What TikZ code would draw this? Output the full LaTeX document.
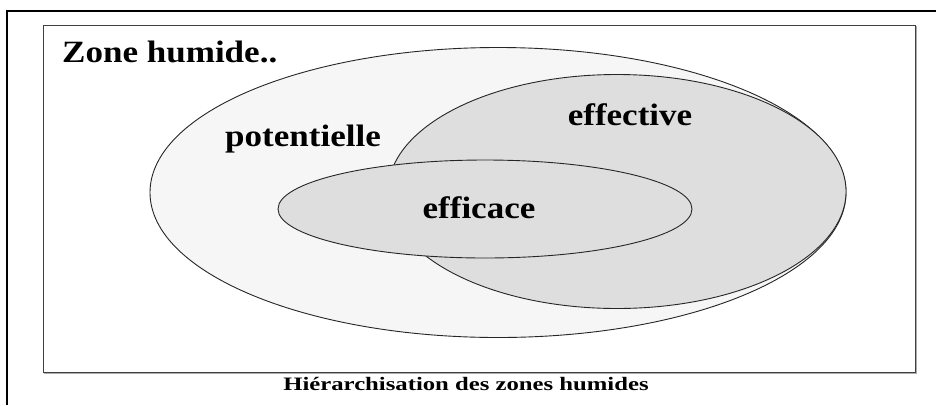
\documentclass[tikz,border=0pt]{standalone}
\usepackage{fontspec}
\usepackage{graphicx}
\setmainfont{Liberation Serif}
\definecolor{potfill}{HTML}{F6F6F6}
\definecolor{efffill}{HTML}{DEDEDE}
\tikzset{
  zone/.style={draw=black!85, line width=0.9pt},
  biglabel/.style={inner sep=0pt, anchor=base, font=\bfseries\fontsize{31}{31}\selectfont},
  caption/.style={inner sep=0pt, anchor=base, font=\bfseries\fontsize{19}{19}\selectfont},
}
\begin{document}
\begin{tikzpicture}[x=1pt, y=-1pt]
  \useasboundingbox (0,0) rectangle (936,405);
  % outer frame (partial)
  \draw[line width=2pt, black] (936,11) -- (7,11) -- (7,405);
  % inner box
  \draw[gray!65, line width=2.2pt] (916,26) -- (916,373) -- (44,373);
  \draw[black!75, line width=0.8pt] (43,25) rectangle (915,372);
  % ellipses
  \draw[zone, fill=potfill] (498,192.5) ellipse [x radius=348, y radius=145];
  \draw[zone, fill=efffill] (617,191.5) ellipse [x radius=229, y radius=117];
  \draw[zone, fill=efffill] (485,209) ellipse [x radius=207, y radius=49];
  % labels
  \node[biglabel, anchor=base west] (title) at (62,62) {\scalebox{1.13}[1]{Zone humide..}};
  \node[biglabel] (pot) at (303,146) {\scalebox{1.13}[1]{potentielle}};
  \node[biglabel] (eff) at (630,125) {\scalebox{1.13}[1]{effective}};
  \node[biglabel] (effc) at (479,218) {\scalebox{1.13}[1]{efficace}};
  \node[caption] (cap) at (466,390) {\scalebox{1.3}[1]{Hiérarchisation des zones humides}};
\end{tikzpicture}
\end{document}
